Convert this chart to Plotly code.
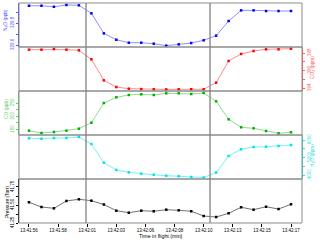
import plotly.graph_objects as go
import numpy as np

# ---- data ----
t_sec = list(range(22))  # seconds since 13:41:56
tick_labels = ["13:41:56", "13:41:58", "13:42:01", "13:42:03", "13:42:06",
               "13:42:08", "13:42:10", "13:42:13", "13:42:15", "13:42:17"]
n2o = [329.957, 329.957, 329.948, 329.964, 329.961, 329.888, 329.706, 329.648,
       329.621, 329.621, 329.612, 329.594, 329.606, 329.618, 329.643, 329.685,
       329.818, 329.915, 329.915, 329.909, 329.909, 329.909]
co2 = [398.38, 398.38, 398.46, 398.38, 398.31, 397.28, 394.88, 394.11,
       393.92, 393.87, 393.85, 393.84, 393.85, 393.86, 393.85, 394.61,
       397.09, 397.89, 398.23, 398.42, 398.42, 398.49]
co = [145.9, 137.2, 141.0, 145.9, 153.4, 175.9, 250.0, 271.4, 280.1, 282.7,
      280.1, 286.5, 286.5, 283.8, 287.6, 256.4, 188.7, 158.7, 154.9, 144.7,
      136.1, 139.9]
h2o = [6097, 6074, 6114, 6114, 6171, 5771, 4703, 4286, 4154, 4069, 4011,
       3960, 3931, 3886, 3857, 4143, 5086, 5469, 5600, 5617, 5657, 5714]
pressure = [41.538, 41.472, 41.454, 41.556, 41.579, 41.560, 41.507, 41.421,
            41.393, 41.421, 41.413, 41.435, 41.426, 41.413, 41.347, 41.333,
            41.385, 41.468, 41.435, 41.476, 41.444, 41.510]
event_lines = [4.57, 14.51]

FONT = "Liberation Sans, Arial, sans-serif"
fig = go.Figure()

panels = [
    dict(y=n2o, ax="y", mk="#0000ff", ln="rgba(90,90,255,0.75)", side="left",
         rng=[329.582, 329.982], tv=[329.6, 329.8], tt=["329.6", "329.8"],
         mv=[329.7, 329.9], tc="#5555ff", title="N<sub>2</sub>O (ppb)"),
    dict(y=co2, ax="y2", mk="#ff0000", ln="rgba(255,80,80,0.75)", side="right",
         rng=[393.657, 398.686], tv=[394, 396, 398], tt=["394", "396", "398"],
         mv=[395, 397], tc="#ff6060", title="CO<sub>2</sub> (ppm)"),
    dict(y=co, ax="y3", mk="#00b000", ln="rgba(90,210,90,0.8)", side="left",
         rng=[129.7, 295.1], tv=[150, 200, 250], tt=["150", "200", "250"],
         mv=[175, 225], tc="#66cc66", title="CO (ppb)"),
    dict(y=h2o, ax="y4", mk="#00e5e5", ln="rgba(60,235,235,0.8)", side="right",
         rng=[3771.4, 6285.7], tv=[4000, 5000, 6000],
         tt=["4000", "5000", "6000"], mv=[4500, 5500], tc="#33dddd",
         title="H<sub>2</sub>O (ppm)"),
    dict(y=pressure, ax="y5", mk="#000000", ln="rgba(60,60,60,0.8)", side="left",
         rng=[41.25, 41.861], tv=[41.25, 41.5, 41.75],
         tt=["41.25", "41.50", "41.75"], mv=[41.375, 41.625], tc="#000000",
         title="Pressure (Torr)"),
]

H = 220.0
W = 283.0
title_pos = [(6, 20), (313, 68), (6, 109), (313, 156), (7, 202)]
bounds = [(0.8, 1.0), (0.6, 0.8), (0.4, 0.6), (0.2, 0.4), (0.0, 0.2)]

for i, p in enumerate(panels):
    fig.add_trace(go.Scatter(
        x=t_sec, y=p["y"], xaxis="x", yaxis=p["ax"], mode="lines+markers",
        line=dict(color=p["ln"], width=0.9),
        marker=dict(symbol="square", size=2.5, color=p["mk"]),
        showlegend=False, hoverinfo="skip"))
    bot, top = bounds[i]
    name = "yaxis" if i == 0 else f"yaxis{i+1}"
    fig.layout[name] = dict(
        domain=[bot, top], range=p["rng"], anchor="x", side=p["side"],
        tickmode="array", tickvals=p["tv"], ticktext=p["tt"],
        tickangle=-90, ticks="outside", ticklen=2.5, tickwidth=0.6,
        tickcolor=p["tc"], showline=True, linecolor=p["tc"], linewidth=0.6,
        tickfont=dict(size=4.5, color=p["tc"], family=FONT),
        minor=dict(tickmode="array", tickvals=p["mv"], ticks="outside",
                   ticklen=1.8, tickwidth=0.6, tickcolor=p["tc"],
                   showgrid=False),
        showgrid=False, zeroline=False, automargin=False, fixedrange=True)
    # frame
    fig.add_shape(type="rect", xref="paper", yref="paper", x0=0, x1=1,
                  y0=bot, y1=top, line=dict(color="#8c8c8c", width=1),
                  layer="above")
    tx, ty = title_pos[i]
    fig.add_annotation(text=p["title"], xref="paper", yref="paper",
                       x=(tx - 19) / W, y=1 - (ty - 3) / H, textangle=-90,
                       showarrow=False, xanchor="center", yanchor="middle",
                       font=dict(size=4.8, color=p["tc"], family=FONT))

for xv in event_lines:
    fig.add_shape(type="line", xref="x", yref="paper", x0=xv, x1=xv, y0=0, y1=1,
                  line=dict(color="#808080", width=1.3), layer="above")

fig.add_annotation(text="Time in flight (min)", xref="paper", yref="paper",
                   x=0.5, y=1 - (236.5 - 3) / H, showarrow=False,
                   xanchor="center", yanchor="middle",
                   font=dict(size=5.3, color="#000", family=FONT))

fig.update_layout(
    width=320, height=242,
    margin=dict(l=19, r=18, t=3, b=19),
    paper_bgcolor="white", plot_bgcolor="white",
    xaxis=dict(range=[-0.8, 21.88], anchor="y5", tickmode="array",
               tickvals=list(np.linspace(0, 21, 10)), ticktext=tick_labels,
               ticks="outside", ticklen=2.5, tickwidth=0.6, tickcolor="#000",
               tickfont=dict(size=4.5, color="#000", family=FONT),
               showgrid=False, zeroline=False, showline=False,
               automargin=False, fixedrange=True),
)

fig.write_html("out.html", config={"displayModeBar": False},
               post_script="document.body.style.margin='0px';"
                           "document.body.style.overflow='hidden';")
